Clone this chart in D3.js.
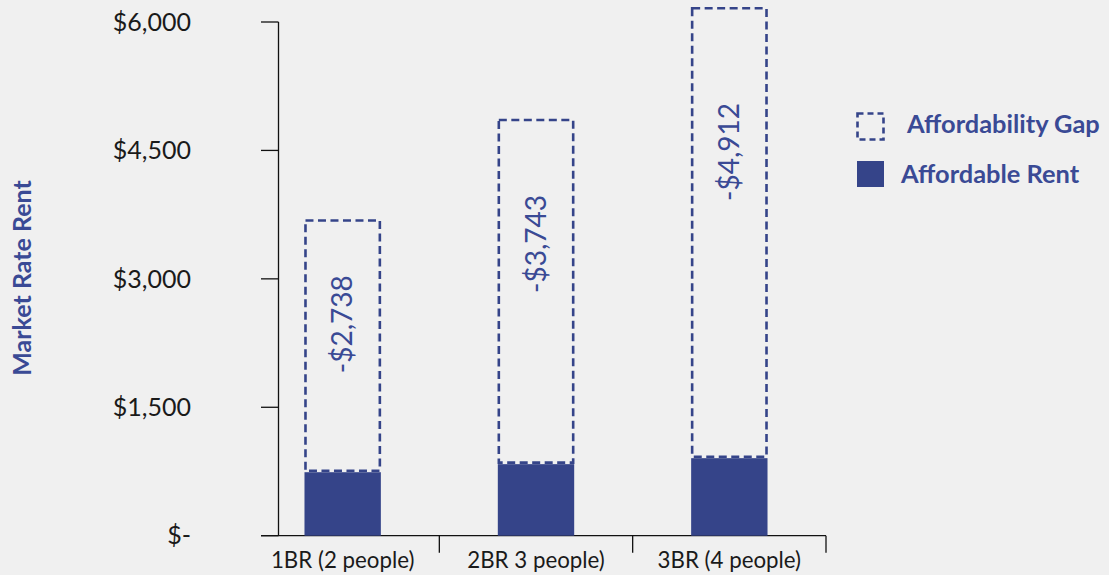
<!DOCTYPE html>
<html><head><meta charset="utf-8">
<script src="https://cdn.jsdelivr.net/npm/d3@7"></script>
<style>
html,body{margin:0;padding:0;background:#f0f0f0;}
svg{display:block;font-family:"Source Sans Pro","Lato","Noto Sans",sans-serif;}
</style></head>
<body>
<svg id="chart" width="1109" height="575"></svg>
<script>
// ---- data ----
const categories = ["1BR (2 people)", "2BR 3 people)", "3BR (4 people)"];
const affordableRent = [759, 853, 923];
const marketRateRent = [3682, 4855, 6160];
const gapLabels = ["-$2,738", "-$3,743", "-$4,912"];
const gapLabelAt = [2470, 3407, 4482];
const yTicks = [0, 1500, 3000, 4500, 6000];
const yTickLabels = ["$-", "$1,500", "$3,000", "$4,500", "$6,000"];
const legendItems = ["Affordability Gap", "Affordable Rent"];

const BLUE = "#354489";
const TEXTBLUE = "#3a4a95";
const svg = d3.select("#chart");

const y = d3.scaleLinear().domain([0, 6000]).range([535.7, 22]);
const x = d3.scaleBand().domain(categories).range([246, 826]).paddingInner(0.605).paddingOuter(0.3025);
const step = x.step();
const axisX = 278.5;

// y axis
svg.append("line").attr("x1", axisX).attr("x2", axisX).attr("y1", y(6000)).attr("y2", y(0))
  .attr("stroke", "#111").attr("stroke-width", 1.3);
const yt = svg.append("g");
yTicks.forEach((t, i) => {
  yt.append("line").attr("x1", 261).attr("x2", axisX).attr("y1", y(t)).attr("y2", y(t))
    .attr("stroke", "#111").attr("stroke-width", 1.3);
  yt.append("text").attr("x", 191).attr("y", y(t)).attr("dy", "0.35em")
    .attr("text-anchor", "end").attr("font-size", 25).attr("fill", "#1a1a1a").text(yTickLabels[i]);
});

// x axis
svg.append("line").attr("x1", 261).attr("x2", x.range()[1]).attr("y1", y(0)).attr("y2", y(0))
  .attr("stroke", "#111").attr("stroke-width", 1.3);
categories.forEach((c, i) => {
  const bx = x(c) + x.bandwidth() / 2 + step / 2;
  svg.append("line").attr("x1", bx).attr("x2", bx).attr("y1", y(0)).attr("y2", y(0) + 17)
    .attr("stroke", "#111").attr("stroke-width", 1.3);
  svg.append("text").attr("x", x(c) + x.bandwidth() / 2).attr("y", 560).attr("dy", "0.35em")
    .attr("text-anchor", "middle").attr("font-size", 22.3).attr("fill", "#1a1a1a").text(c);
});

// bars
categories.forEach((c, i) => {
  const bx = x(c), bw = x.bandwidth();
  svg.append("rect").attr("x", bx).attr("y", y(affordableRent[i]) + 1.5)
    .attr("width", bw).attr("height", y(0) - y(affordableRent[i]) - 1.5).attr("fill", BLUE);
  svg.append("rect").attr("x", bx + 1).attr("y", y(marketRateRent[i]))
    .attr("width", bw - 2).attr("height", y(affordableRent[i]) - y(marketRateRent[i]))
    .attr("fill", "none").attr("stroke", BLUE).attr("stroke-width", 2.6)
    .attr("stroke-dasharray", "8,4.5");
  const lx = bx + bw / 2, ly = y(gapLabelAt[i]);
  svg.append("text").attr("transform", `translate(${lx},${ly}) rotate(-90)`)
    .attr("text-anchor", "middle").attr("dy", "0.35em")
    .attr("font-size", 28).attr("fill", TEXTBLUE).text(gapLabels[i]);
});

// axis title
svg.append("text").attr("transform", `translate(22,${278}) rotate(-90)`)
  .attr("text-anchor", "middle").attr("dy", "0.35em").attr("font-size", 25)
  .attr("font-weight", "bold").attr("fill", TEXTBLUE).text("Market Rate Rent");

// legend
const lg = svg.append("g");
lg.append("rect").attr("x", 857.5).attr("y", 113.5).attr("width", 26).attr("height", 26)
  .attr("fill", "none").attr("stroke", BLUE).attr("stroke-width", 2.6).attr("stroke-dasharray", "6,4");
lg.append("text").attr("x", 907).attr("y", 124).attr("dy", "0.35em").attr("font-size", 25.4)
  .attr("font-weight", "bold").attr("fill", TEXTBLUE).text(legendItems[0]);
lg.append("rect").attr("x", 857).attr("y", 161).attr("width", 27).attr("height", 26).attr("fill", BLUE);
lg.append("text").attr("x", 901).attr("y", 174).attr("dy", "0.35em").attr("font-size", 25.4)
  .attr("font-weight", "bold").attr("fill", TEXTBLUE).text(legendItems[1]);
</script>
</body></html>
